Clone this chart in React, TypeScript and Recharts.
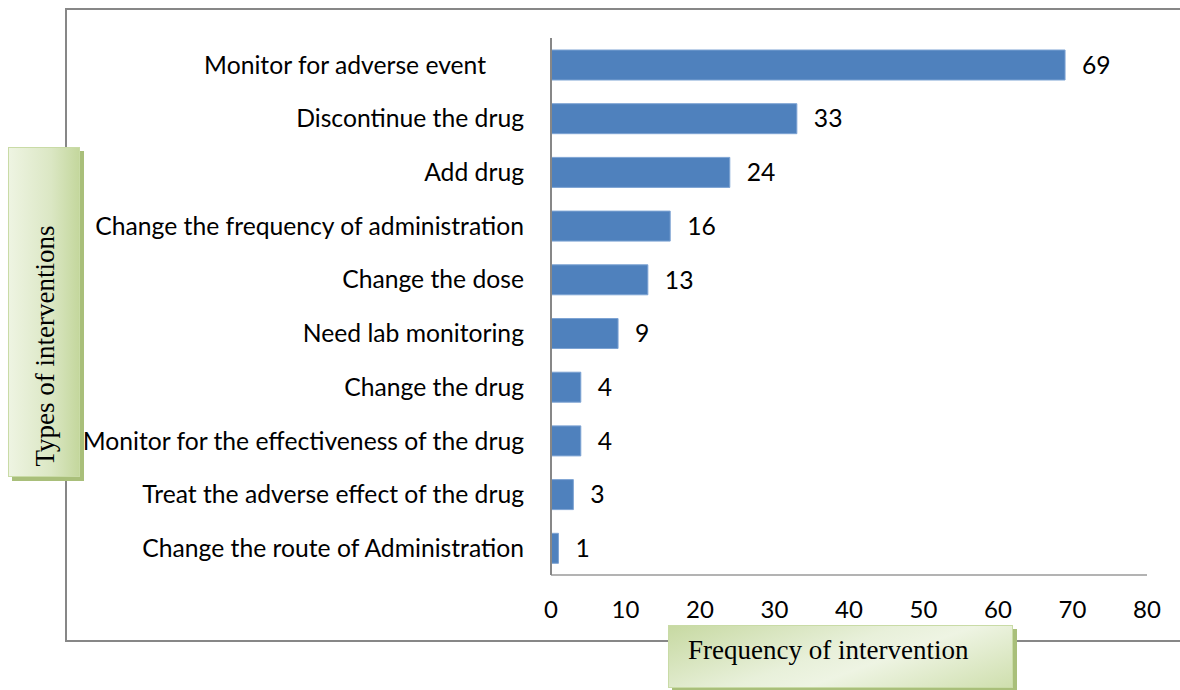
import React from "react";
import { BarChart, Bar, XAxis, YAxis, LabelList } from "recharts";

const interventions = [
  "Monitor for adverse event\u00A0\u00A0\u00A0\u00A0\u00A0\u00A0",
  "Discontinue the drug",
  "Add drug",
  "Change the frequency of administration",
  "Change the dose",
  "Need lab monitoring",
  "Change the drug",
  "Monitor for the effectiveness of the drug",
  "Treat the adverse effect of the drug",
  "Change the route of Administration",
];

const frequencies = [69, 33, 24, 16, 13, 9, 4, 4, 3, 1];

const xTicks = [0, 10, 20, 30, 40, 50, 60, 70, 80];

const data = interventions.map((name, i) => ({ name, value: frequencies[i] }));

const FONT = "Lato, 'Open Sans', sans-serif";
const SERIF = "'Liberation Serif', 'Times New Roman', serif";

export default function App() {
  return (
    <div style={{ position: "absolute", left: 0, top: 0, width: 1180, height: 690, background: "#fff", overflow: "hidden" }}>
      {/* outer frame, open past the right edge */}
      <div
        style={{
          position: "absolute",
          left: 65,
          top: 8,
          width: 1200,
          height: 634,
          borderTop: "2px solid #878787",
          borderLeft: "2px solid #878787",
          borderBottom: "2px solid #878787",
          boxSizing: "border-box",
        }}
      />
      <div style={{ position: "absolute", left: 0, top: 0 }}>
        <BarChart
          layout="vertical"
          width={1180}
          height={690}
          data={data}
          margin={{ top: 38, right: 33, bottom: 85, left: 0 }}
        >
          <XAxis
            type="number"
            domain={[0, 80]}
            ticks={xTicks}
            interval={0}
            axisLine={{ stroke: "#b3b3b3", strokeWidth: 2 }}
            tickLine={false}
            tickSize={0}
            tickMargin={26}
            tick={{ fill: "#000", fontSize: 24, fontFamily: FONT }}
          />
          <YAxis
            type="category"
            dataKey="name"
            width={551}
            interval={0}
            axisLine={{ stroke: "#878787", strokeWidth: 2 }}
            tickLine={false}
            tickSize={0}
            tickMargin={27}
            tick={{ fill: "#000", fontSize: 24.7, fontFamily: FONT }}
          />
          <Bar dataKey="value" fill="#4f81bd" stroke="#7da3d3" strokeWidth={1} barSize={30} isAnimationActive={false}>
            <LabelList dataKey="value" position="right" offset={17} fill="#000" fontSize={24.7} fontFamily={FONT} />
          </Bar>
        </BarChart>
      </div>
      {/* y axis title box */}
      <div style={{ position: "absolute", left: 12, top: 151, width: 72, height: 330, background: "#a9bf7a" }} />
      <div
        style={{
          position: "absolute",
          left: 8,
          top: 147,
          width: 72,
          height: 330,
          boxSizing: "border-box",
          border: "1px solid #c9dba6",
          background: "linear-gradient(to right, #eef4e2 0%, #dbe7c4 60%, #c4d79d 100%)",
        }}
      >
        <div
          style={{
            position: "absolute",
            left: 36,
            top: 198,
            transform: "translate(-50%, -50%) rotate(-90deg)",
            whiteSpace: "nowrap",
            fontFamily: SERIF,
            fontSize: 27,
            color: "#000",
          }}
        >
          Types of interventions
        </div>
      </div>
      {/* x axis title box */}
      <div style={{ position: "absolute", left: 672, top: 629, width: 345, height: 64, background: "#a9bf7a" }} />
      <div
        style={{
          position: "absolute",
          left: 668,
          top: 625,
          width: 345,
          height: 63,
          boxSizing: "border-box",
          border: "1px solid #c9dba6",
          background: "linear-gradient(160deg, #c7d9a2 0%, #e8f0da 45%, #eef4e3 60%, #cfdfae 100%)",
          fontFamily: SERIF,
          fontSize: 27,
          color: "#000",
          paddingLeft: 19,
          paddingTop: 9,
          whiteSpace: "nowrap",
        }}
      >
        Frequency of intervention
      </div>
    </div>
  );
}
